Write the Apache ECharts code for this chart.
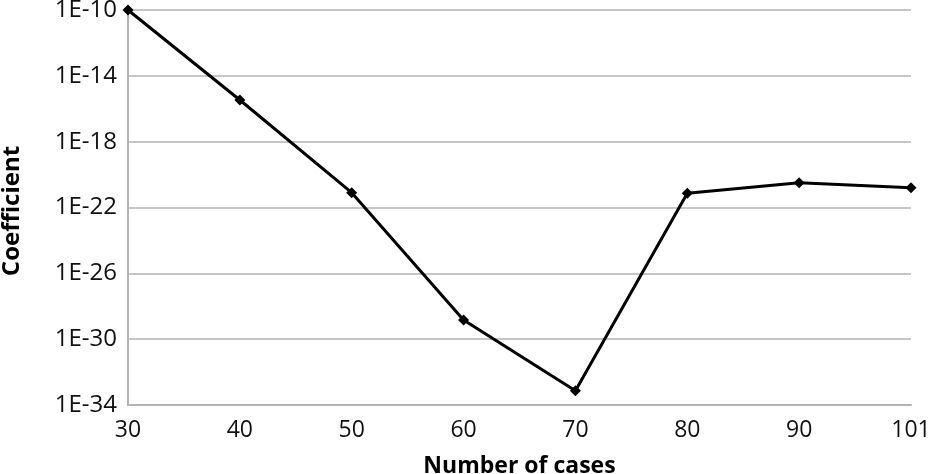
<!DOCTYPE html>
<html>
<head>
<meta charset="utf-8">
<script src="https://cdn.jsdelivr.net/npm/echarts@6/dist/echarts.min.js"></script>
<style>html,body{margin:0;padding:0;background:#fff}#c{width:931px;height:474px}</style>
</head>
<body>
<div id="c"></div>
<script>
const categories = ['30', '40', '50', '60', '70', '80', '90', '101'];
// exponent of coefficient (value = 10^exponent)
const exponents = [-10, -15.47, -21.1, -28.84, -33.14, -21.14, -20.5, -20.8];
const yTickExponents = [-34, -30, -26, -22, -18, -14, -10];

const chart = echarts.init(document.getElementById('c'));
chart.setOption({
  animation: false,
  backgroundColor: '#fff',
  grid: { left: 128, right: 20, top: 10, bottom: 69, containLabel: false, outerBoundsMode: 'none' },
  xAxis: {
    type: 'category',
    data: categories,
    boundaryGap: false,
    name: 'Number of cases',
    nameLocation: 'middle',
    nameGap: 50,
    nameTextStyle: { fontFamily: 'Open Sans', fontSize: 23, fontWeight: 'bold', color: '#000' },
    axisLine: { lineStyle: { color: '#b3b3b3', width: 2 } },
    axisTick: { show: false },
    axisLabel: { fontFamily: 'Open Sans', fontSize: 23, color: '#111', margin: 14 },
    splitLine: { show: false }
  },
  yAxis: {
    type: 'value',
    min: -34,
    max: -10,
    interval: 4,
    name: 'Coefficient',
    nameLocation: 'middle',
    nameGap: 104,
    nameRotate: 90,
    nameTextStyle: { fontFamily: 'Open Sans', fontSize: 24, fontWeight: 'bold', color: '#000', padding: [0, 7, 0, 0] },
    axisLine: { show: true, lineStyle: { color: '#b3b3b3', width: 2 } },
    axisTick: { show: false },
    axisLabel: {
      fontFamily: 'Open Sans', fontSize: 24, color: '#111', margin: 11,
      formatter: v => '1E' + v
    },
    splitLine: { show: true, lineStyle: { color: '#b3b3b3', width: 1.5 } }
  },
  series: [{
    type: 'line',
    data: exponents,
    symbol: 'diamond',
    symbolSize: 11,
    lineStyle: { color: '#000', width: 3 },
    itemStyle: { color: '#000' }
  }]
});
</script>
</body>
</html>
